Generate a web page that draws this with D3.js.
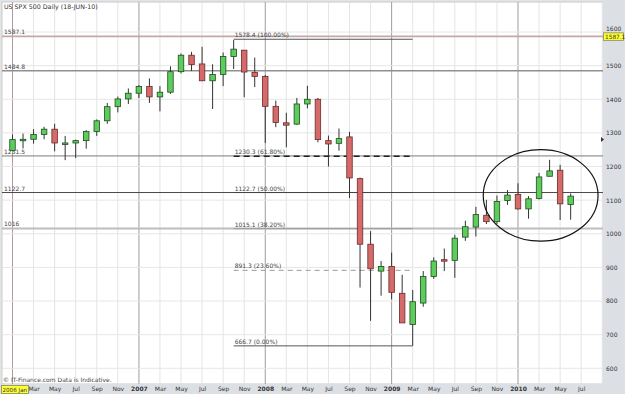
<!DOCTYPE html>
<html>
<head>
<meta charset="utf-8">
<title>spx monthly</title>
<script src="https://cdn.jsdelivr.net/npm/d3@7/dist/d3.min.js"></script>
<style>
body{margin:0;background:#fff;}
text{font-family:"DejaVu Sans",Verdana,sans-serif;}
</style>
</head>
<body>
<svg width="625" height="394" id="mainsvg"></svg>
<script>
// monthly candles, Jan 2006 .. Jun 2010
const months = ['2006-01','2006-02','2006-03','2006-04','2006-05','2006-06','2006-07','2006-08','2006-09','2006-10','2006-11','2006-12',
  '2007-01','2007-02','2007-03','2007-04','2007-05','2007-06','2007-07','2007-08','2007-09','2007-10','2007-11','2007-12',
  '2008-01','2008-02','2008-03','2008-04','2008-05','2008-06','2008-07','2008-08','2008-09','2008-10','2008-11','2008-12',
  '2009-01','2009-02','2009-03','2009-04','2009-05','2009-06','2009-07','2009-08','2009-09','2009-10','2009-11','2009-12',
  '2010-01','2010-02','2010-03','2010-04','2010-05','2010-06'];
const open  = [1248,1280,1281,1295,1311,1270,1270,1277,1304,1336,1378,1401, 1418,1438,1407,1421,1482,1531,1505,1455,1474,1527,1546,1480,
  1468,1379,1330,1326,1386,1400,1277,1269,1288,1164,969,889, 903,823,730,794,873,923,921,990,1020,1055,1036,1099, 1117,1074,1105,1171,1189,1087];
const high  = [1295,1298,1311,1318,1327,1291,1280,1308,1340,1389,1408,1432, 1442,1462,1439,1498,1536,1541,1556,1504,1539,1576,1546,1524,
  1472,1396,1360,1404,1440,1404,1292,1313,1303,1167,1008,919, 944,878,833,889,930,956,997,1039,1080,1101,1114,1130, 1150,1112,1181,1220,1205,1120];
const low   = [1246,1254,1268,1281,1245,1219,1225,1253,1291,1327,1361,1386, 1404,1389,1364,1416,1477,1484,1454,1371,1439,1490,1406,1436,
  1270,1317,1257,1324,1373,1272,1200,1247,1106,840,741,816, 805,735,667,783,866,889,869,979,992,1029,1029,1086, 1072,1045,1102,1171,1041,1042];
const close = [1280,1281,1295,1311,1270,1270,1277,1304,1336,1378,1401,1418, 1438,1407,1421,1482,1531,1503,1455,1474,1527,1549,1481,1468,
  1379,1331,1323,1386,1400,1280,1267,1283,1166,969,896,903, 826,735,798,873,919,919,987,1021,1057,1036,1096,1115, 1074,1104,1169,1187,1089,1112];

const xTickMonths = [0,2,4,6,8,10,12,14,16,18,20,22,24,26,28,30,32,34,36,38,40,42,44,46,48,50,52,54];
const xTickLabels = ['2006 Jan','Mar','May','Jul','Sep','Nov','2007','Mar','May','Jul','Sep','Nov','2008','Mar','May','Jul','Sep','Nov',
  '2009','Mar','May','Jul','Sep','Nov','2010','Mar','May','Jul'];
const priceTicks = [600,700,800,900,1000,1100,1200,1300,1400,1500,1600];

// horizontal levels across the whole chart
const levelValues = [1587.1,1484.8,1231.5,1122.7,1016];
const levelLabels = ['1587.1','1484.8','1231.5','1122.7','1016'];
// fibonacci retracement Oct 2007 -> Mar 2009
const fibValues = [1578.4,1230.3,1122.7,1015.1,891.3,666.7];
const fibLabels = ['1578.4 (100.00%)','1230.3 (61.80%)','1122.7 (50.00%)','1015.1 (38.20%)','891.3 (23.60%)','666.7 (0.00%)'];
const fibStart = 21, fibEnd = 38;
// circled region (months, prices)
const ringMonths = [44.7,55.6];
const ringPrices = [978,1250];

const svg = d3.select('svg');
const width = +svg.attr('width');
const height = +svg.attr('height');
const plot = {left:2, right:603, top:2, bottom:384};

const xScale = d3.scaleLinear().domain([0,48]).range([12.5,518]);
const yScale = d3.scaleLinear().domain([600,1600]).range([368.3,32]);

svg.append('rect').attr('width',width).attr('height',height).attr('fill','#e2e4e8');
svg.append('rect').attr('x',plot.left).attr('y',plot.top)
  .attr('width',plot.right-plot.left).attr('height',plot.bottom-plot.top)
  .attr('fill','#fff').attr('stroke','#c9c9c9');

const g = svg.append('g');

// grid
const gridMonths = d3.range(0,57,2);
g.selectAll('.vgrid').data(gridMonths).join('line')
  .attr('x1',d=>xScale(d)).attr('x2',d=>xScale(d))
  .attr('y1',plot.top).attr('y2',plot.bottom)
  .attr('stroke',d=>d===0?'#b39a9a':(d%12===0?(d===12?'#c8c8c8':'#9c9c9c'):'#e4e4e4'))
  .attr('stroke-width',d=>d===12?1.8:1);
g.selectAll('.hgrid').data(priceTicks).join('line')
  .attr('x1',plot.left).attr('x2',plot.right)
  .attr('y1',d=>yScale(d)).attr('y2',d=>yScale(d))
  .attr('stroke','#e6e6e6');

// full-width levels
const levelStroke = ['#c4a8a8','#8f8f8f','#7a7a7a','#4a4a4a','#bdbdbd'];
const levelWidth = [1.6,1.6,1,1,2];
g.selectAll('.level').data(levelValues).join('line')
  .attr('x1',plot.left).attr('x2',plot.right)
  .attr('y1',d=>yScale(d)).attr('y2',d=>yScale(d))
  .attr('stroke',(d,i)=>levelStroke[i]).attr('stroke-width',(d,i)=>levelWidth[i]);
g.selectAll('.levelLabel').data(levelValues).join('text')
  .attr('x',4).attr('y',d=>yScale(d)-2)
  .attr('font-size',6).attr('fill','#444')
  .text((d,i)=>levelLabels[i]);

// fib lines
const fibDash = [null,'6,4',null,null,'5,4',null];
const fibStroke = ['#555','#222','#444','#999','#999','#555'];
g.selectAll('.fib').data(fibValues).join('line')
  .attr('x1',xScale(fibStart)).attr('x2',xScale(fibEnd))
  .attr('y1',d=>yScale(d)).attr('y2',d=>yScale(d))
  .attr('stroke',(d,i)=>fibStroke[i])
  .attr('stroke-width',(d,i)=>i===1?1.5:1)
  .attr('stroke-dasharray',(d,i)=>fibDash[i]);
g.selectAll('.fibLabel').data(fibValues).join('text')
  .attr('x',xScale(fibStart)+1).attr('y',d=>yScale(d)-2)
  .attr('font-size',6).attr('fill','#444')
  .text((d,i)=>fibLabels[i]);

// candles
const candles = months.map((m,i)=>({i, o:open[i], h:high[i], l:low[i], c:close[i]}));
const bw = 5.5;
const cg = g.selectAll('.candle').data(candles).join('g').attr('class','candle');
cg.append('line')
  .attr('x1',d=>xScale(d.i)).attr('x2',d=>xScale(d.i))
  .attr('y1',d=>yScale(d.h)).attr('y2',d=>yScale(d.l))
  .attr('stroke','#333').attr('stroke-width',1);
cg.append('rect')
  .attr('x',d=>xScale(d.i)-bw/2).attr('width',bw)
  .attr('y',d=>yScale(Math.max(d.o,d.c)))
  .attr('height',d=>Math.max(1.5,Math.abs(yScale(d.o)-yScale(d.c))))
  .attr('fill',d=>d.c>=d.o?'#5ccc5c':'#d56a6a')
  .attr('stroke',d=>d.c>=d.o?'#1f4d1f':'#6b2a2a')
  .attr('stroke-width',0.8);

// ellipse annotation
g.append('ellipse')
  .attr('cx',(xScale(ringMonths[0])+xScale(ringMonths[1]))/2)
  .attr('cy',(yScale(ringPrices[0])+yScale(ringPrices[1]))/2)
  .attr('rx',(xScale(ringMonths[1])-xScale(ringMonths[0]))/2)
  .attr('ry',(yScale(ringPrices[0])-yScale(ringPrices[1]))/2)
  .attr('fill','none').attr('stroke','#111').attr('stroke-width',1.2);

// axes bands
svg.append('rect').attr('x',plot.right).attr('y',0).attr('width',width-plot.right).attr('height',height).attr('fill','#dcdfe4');
svg.append('rect').attr('x',0).attr('y',plot.bottom).attr('width',plot.right).attr('height',height-plot.bottom).attr('fill','#dcdfe4');

const yAxis = svg.append('g').attr('transform',`translate(${plot.right},0)`)
  .call(d3.axisRight(yScale).tickValues(priceTicks).tickSize(0).tickPadding(3).tickFormat(d3.format('d')));
yAxis.select('.domain').remove();
yAxis.selectAll('text').attr('font-size',6).attr('fill','#333').attr('font-family','DejaVu Sans');
// top label sits just above the cursor price box
yAxis.selectAll('.tick').filter(d=>d===1600).select('text').attr('dy','-0.25em');

const xAxis = svg.append('g').attr('transform',`translate(0,${plot.bottom})`)
  .call(d3.axisBottom(xScale).tickValues(xTickMonths).tickSize(0).tickPadding(3).tickFormat((d,i)=>xTickLabels[i]));
xAxis.select('.domain').remove();
xAxis.selectAll('text').attr('font-size',6).attr('fill','#333').attr('font-family','DejaVu Sans')
  .attr('font-weight',(d,i)=>/^\d{4}$/.test(xTickLabels[i])?'bold':'normal');
xAxis.selectAll('.tick').filter(d=>d===0).select('text').attr('opacity',0);

// last price marker
svg.append('path')
  .attr('d',`M${plot.right-2},${yScale(1280)-2.5}L${plot.right+1},${yScale(1280)}L${plot.right-2},${yScale(1280)+2.5}Z`)
  .attr('fill','#333');

// crosshair boxes
const cursorPrice = levelValues[0];
svg.append('rect').attr('x',plot.right+0.5).attr('y',yScale(cursorPrice)-3.5).attr('width',20).attr('height',7.5)
  .attr('fill','#ffff33').attr('stroke','#8a8a50').attr('stroke-width',0.8);
svg.append('text').attr('x',plot.right+2).attr('y',yScale(cursorPrice)+2.2)
  .attr('font-size',5.8).attr('fill','#333').text(levelLabels[0]);
svg.append('rect').attr('x',1.5).attr('y',plot.bottom+1.5).attr('width',27).attr('height',8)
  .attr('fill','#ffff33').attr('stroke','#8a8a50').attr('stroke-width',0.8);
svg.append('text').attr('x',2.5).attr('y',plot.bottom+7.8)
  .attr('font-size',5.6).attr('fill','#333').text(xTickLabels[0]);

// title and note
svg.append('text').attr('x',4).attr('y',9).attr('font-size',6.3).attr('fill','#333')
  .text('US SPX 500 Daily (18-JUN-10)');
svg.append('text').attr('x',3).attr('y',plot.bottom-2).attr('font-size',6).attr('fill','#444')
  .text('© IT-Finance.com Data is Indicative.');
</script>
</body>
</html>
